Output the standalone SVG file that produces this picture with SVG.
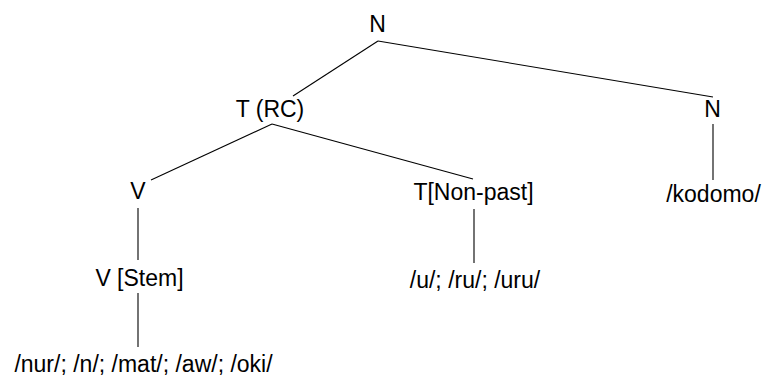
<svg xmlns="http://www.w3.org/2000/svg" width="764" height="379" viewBox="0 0 764 379">
  <style>
    .lbl { font-family: "Liberation Sans", Arial, sans-serif; font-size: 23px; fill: #000; text-anchor: middle; }
    .edge { stroke: #000; stroke-width: 1.1; fill: none; }
  </style>
  <rect width="764" height="379" fill="#fff"/>
  <g id="connectors">
    <line class="edge" x1="378" y1="41" x2="293" y2="96"/>
    <line class="edge" x1="378" y1="41" x2="713" y2="97"/>
    <line class="edge" x1="272" y1="124" x2="151" y2="180"/>
    <line class="edge" x1="272" y1="124" x2="473" y2="179"/>
    <line class="edge" x1="138" y1="208" x2="138" y2="260"/>
    <line class="edge" x1="138" y1="293" x2="138" y2="347"/>
    <line class="edge" x1="474" y1="209" x2="474" y2="263"/>
    <line class="edge" x1="713" y1="124" x2="713" y2="180"/>
  </g>
  <g id="n-root"><text class="lbl" x="377.5" y="32">N</text></g>
  <g id="t-rc"><text class="lbl" x="270" y="117">T (RC)</text></g>
  <g id="n-right"><text class="lbl" x="712.5" y="117">N</text></g>
  <g id="v"><text class="lbl" x="138" y="199">V</text></g>
  <g id="t-nonpast"><text class="lbl" x="473.5" y="200">T[Non-past]</text></g>
  <g id="kodomo"><text class="lbl" x="713.5" y="202">/kodomo/</text></g>
  <g id="v-stem"><text class="lbl" x="139.5" y="286">V [Stem]</text></g>
  <g id="nonpast-forms"><text class="lbl" x="475" y="288">/u/; /ru/; /uru/</text></g>
  <g id="stem-forms"><text class="lbl" x="143.5" y="372">/nur/; /n/; /mat/; /aw/; /oki/</text></g>
</svg>
